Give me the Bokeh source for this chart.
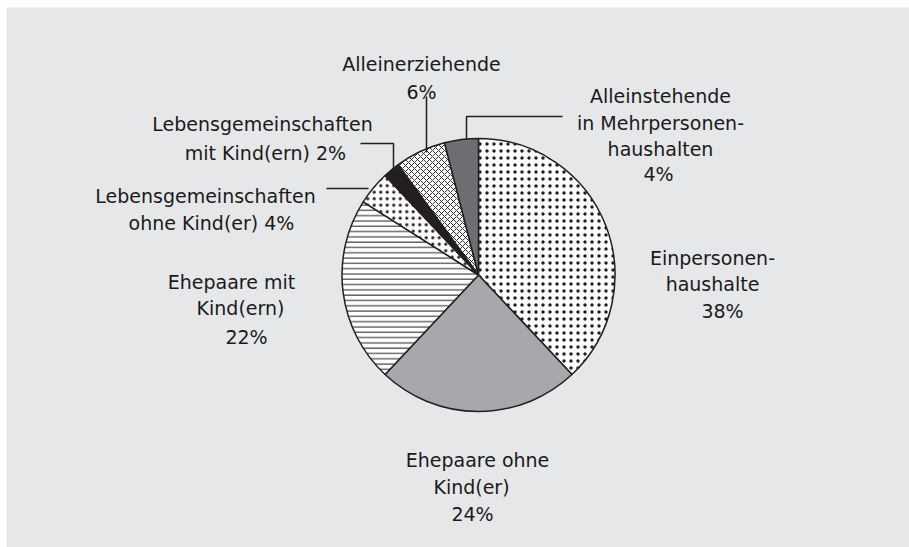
import numpy as np
from bokeh.plotting import figure
from bokeh.models import Range1d
from bokeh.embed import file_html
from bokeh.resources import INLINE
from bokeh.core.properties import value

# ---- data ----
categories = [
    "Einpersonenhaushalte",
    "Ehepaare ohne Kind(er)",
    "Ehepaare mit Kind(ern)",
    "Lebensgemeinschaften ohne Kind(er)",
    "Lebensgemeinschaften mit Kind(ern)",
    "Alleinerziehende",
    "Alleinstehende in Mehrpersonenhaushalten",
]
shares = [38, 24, 22, 4, 2, 6, 4]
label_lines = [
    ["Einpersonen-", "haushalte", "{p}%"],
    ["Ehepaare ohne", "Kind(er)", "{p}%"],
    ["Ehepaare mit", "Kind(ern)", "{p}%"],
    ["Lebensgemeinschaften", "ohne Kind(er) {p}%"],
    ["Lebensgemeinschaften", "mit Kind(ern) {p}%"],
    ["Alleinerziehende", "{p}%"],
    ["Alleinstehende", "in Mehrpersonen-", "haushalten", "{p}%"],
]

# ---- styles ----
fill_colors = ["#ffffff", "#a7a8ab", "#ffffff", "#ffffff", "#231f20", "#ffffff", "#6d6e71"]
hatch_patterns = [".", " ", "-", ".", " ", "x", " "]
hatch_scales = [7, 1, 5.3, 6.5, 1, 6, 1]
hatch_weights = [0.4, 1, 1, 1.8, 1, 0.9, 1]
INK = "#231f20"
BG = "#e6e7e9"
FONT = "DejaVu Sans"

# ---- layout (screenshot pixel coordinates) ----
W, H = 909, 547
LEFT, TOP = 6, 7
def Y(py):
    return H - py

cx, cy, r = 478, Y(274.5), 136.5

# per-line label positions (center x, baseline y in pixels)
label_pos = [
    [(712, 257), (712, 283), (722, 310)],
    [(477, 459), (471, 486), (472, 513)],
    [(231, 281), (240, 307), (246, 336)],
    [(205, 195), (211, 222)],
    [(262, 123), (265, 152)],
    [(421, 63), (421, 91)],
    [(660, 95), (660, 122), (660, 148), (658, 173)],
]
leaders = [
    [(426, 96), (426, 152)],
    [(466, 139), (466, 116), (562, 116)],
    [(360, 143), (393, 143), (393, 172)],
    [(326, 188), (368, 188)],
]

p = figure(width=W, height=H, x_range=Range1d(LEFT, W), y_range=Range1d(0, H - TOP),
           output_backend="svg", toolbar_location=None,
           min_border_left=LEFT, min_border_top=TOP, min_border_right=0, min_border_bottom=0,
           x_axis_location=None, y_axis_location=None,
           background_fill_color=BG, border_fill_color="white", outline_line_color=None)
p.grid.grid_line_color = None

total = float(sum(shares))
cum = np.concatenate([[0.0], np.cumsum(shares) / total])
for i, cat in enumerate(categories):
    a0 = np.pi / 2 - cum[i] * 2 * np.pi
    a1 = np.pi / 2 - cum[i + 1] * 2 * np.pi
    p.wedge(x=cx, y=cy, radius=r, start_angle=a0, end_angle=a1, direction="clock",
            fill_color=fill_colors[i], line_color=INK, line_width=1.5,
            hatch_pattern=hatch_patterns[i], hatch_color=INK,
            hatch_scale=hatch_scales[i], hatch_weight=hatch_weights[i])

for pts in leaders:
    p.line([q[0] for q in pts], [Y(q[1]) for q in pts], line_color=INK, line_width=1.5)

for i, lines in enumerate(label_lines):
    xs, ys, txt = [], [], []
    for line, (lx, ly) in zip(lines, label_pos[i]):
        xs.append(lx)
        ys.append(Y(ly))
        txt.append(line.format(p=shares[i]))
    p.text(x=xs, y=ys, text=txt, text_font=value(FONT), text_font_size="19px",
           text_align="center", text_baseline="alphabetic", text_color="#1a1a1a")

open("out.html", "w").write(file_html(p, INLINE))
